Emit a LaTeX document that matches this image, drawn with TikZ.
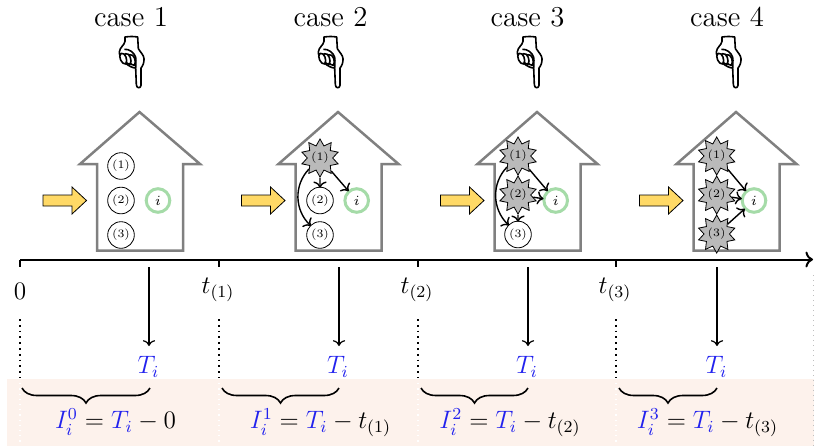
\documentclass[tikz,border=0pt]{standalone}
\usetikzlibrary{shapes.geometric,arrows.meta,decorations.pathreplacing}
\definecolor{bandc}{HTML}{FDF2EC}
\definecolor{yarrow}{HTML}{FFD966}
\definecolor{igreen}{HTML}{A5DBA8}
\definecolor{iblue}{HTML}{2222EE}
\newcommand{\nodefont}{\fontsize{5.7}{6.5}\selectfont}
\tikzset{
  house/.style={draw=black!50,line width=1.25pt,fill=white,line join=miter},
  plain/.style={circle,draw=black,line width=.4pt,fill=white,minimum size=13.3pt,inner sep=0pt,font=\nodefont},
  burst/.style={star,star points=10,star point ratio=1.5,draw=black,line width=.4pt,fill=black!27,minimum size=17pt,inner sep=0pt,font=\nodefont},
  inode/.style={circle,draw=igreen,line width=1.5pt,fill=white,minimum size=11.8pt,inner sep=0pt,font=\scriptsize},
  link/.style={->,line width=.7pt,shorten >=-.5pt},
  entry/.style={draw=black,line width=.4pt,fill=yarrow},
  axisline/.style={line width=1pt},
  tickline/.style={line width=.6pt},
  droparrow/.style={->,line width=.6pt},
  guide/.style={dotted,line width=.9pt},
  wguide/.style={dotted,line width=.6pt,draw=white},
  bracel/.style={decorate,decoration={brace,mirror,amplitude=7.5pt},line width=.8pt},
  lab/.style={font=\Large,inner sep=0pt},
  mathlab/.style={font=\large,inner sep=0pt,scale=1.05},
  hand/.style={line width=.8pt,line join=round,fill=white}
}
\newcommand{\myhouse}[1]{%
  \draw[house] (#1,112) -- ++(60.5,52) -- ++(-17,0) -- ++(0,86.5) -- ++(-86,0) -- ++(0,-86.5) -- ++(-17,0) -- cycle;
  \draw[entry] (#1-96.5,195) -- ++(29,0) -- ++(0,-8) -- ++(14.5,13.5) -- ++(-14.5,13.5) -- ++(0,-8) -- ++(-29,0) -- cycle;
}
\newcommand{\myfinger}[2]{%
  \draw[hand] (#1,#2) .. controls (#1+13,#2-4) and (#1+22,#2+22) .. (#1+14,#2+32)
    .. controls (#1+2,#2+34) and (#1-10,#2+8) .. cycle;
}
\newcommand{\myhand}[1]{%
  \begin{scope}[shift={(#1,60)},x=.1667pt,y=-.1667pt]
    \draw[hand] (-24,-69) .. controls (-10,-71) and (2,-71) .. (14,-69)
      -- (16,-34) .. controls (22,-24) and (33,-14) .. (33,-4) .. controls (34,8) and (29,18) .. (24,24)
      -- (24,76) .. controls (23,86) and (11,86) .. (10,74) -- (8,24)
      .. controls (0,24) and (-14,18) .. (-24,8) .. controls (-34,-2) and (-42,-14) .. (-41,-24)
      .. controls (-40,-38) and (-26,-44) .. (-24,-56) -- cycle;
    \draw[hand,fill=none] (-26,-32) .. controls (-12,-34) and (4,-22) .. (8,-8) .. controls (10,4) and (8,14) .. (8,24);
    \myfinger{-10}{-16}\myfinger{-23}{-19}\myfinger{-36}{-20}
  \end{scope}
}
\begin{document}
\begin{tikzpicture}[x=.5pt,y=-.5pt]
\useasboundingbox (0,0) rectangle (814,446);
% band
\fill[bandc] (7,379) rectangle (814,446);
% case titles and hands
\node[lab] (c1) at (131,17) {case 1};
\node[lab] (c2) at (330.5,17) {case 2};
\node[lab] (c3) at (527.5,17) {case 3};
\node[lab] (c4) at (727,17) {case 4};
\myhand{133}\myhand{332}\myhand{531}\myhand{730}
\myhouse{139.5}\myhouse{338}\myhouse{537}\myhouse{736}
% case 1
\node[plain] (a1) at (121,166) {(1)};
\node[plain] (a2) at (121,200.5) {(2)};
\node[plain] (a3) at (121,235) {(3)};
\node[inode] (ai) at (158,200.5) {$i$};
% case 2
\node[plain] (b2) at (320,200.5) {(2)};
\node[plain] (b3) at (320,235) {(3)};
\node[inode] (bi) at (356.7,200.5) {$i$};
\node[burst] (b1) at (320,158) {(1)};
\draw[link] (b1) -- (b2);
\draw[link] (b1) -- (bi);
\draw[link] (b1) to[bend right=45] (b3);
% case 3
\node[plain] (d3) at (518,234.5) {(3)};
\node[inode] (di) at (555.7,200.5) {$i$};
\node[burst] (d1) at (518,156) {(1)};
\node[burst] (d2) at (518,195) {(2)};
\draw[link] (d1) -- (di);
\draw[link] (d2) -- (di);
\draw[link] (d2) -- (d3);
\draw[link] (d1) to[bend right=45] (d3);
% case 4
\node[inode] (ei) at (754,200.5) {$i$};
\node[burst] (e1) at (716.7,156) {(1)};
\node[burst] (e2) at (716.7,195) {(2)};
\node[burst] (e3) at (716.7,234) {(3)};
\draw[link] (e1) -- (ei);
\draw[link] (e2) -- (ei);
\draw[link] (e3) -- (ei);
% axis
\coordinate (ax0) at (20,259.5);
\coordinate (ax1) at (219,259.5);
\coordinate (ax2) at (418,259.5);
\coordinate (ax3) at (616,259.5);
\coordinate (axe) at (813,259.5);
\draw[axisline,->] (ax0) -- (axe);
\foreach \n/\x in {ax0/20,ax1/219,ax2/418,ax3/616}{
  \coordinate (\n b) at (\x,267);
  \draw[tickline] (\n) -- (\n b);
}
\node[mathlab] (l0) at (20,291) {$0$};
\node[mathlab] (l1) at (218,290) {$t_{(1)}$};
\node[mathlab] (l2) at (417,289.5) {$t_{(2)}$};
\node[mathlab] (l3) at (615,289.5) {$t_{(3)}$};
% dotted guides
\foreach \n/\x in {0/20,1/219,2/418,3/616}{
  \coordinate (gt\n) at (\x,319);
  \coordinate (gm\n) at (\x,378);
  \coordinate (gb\n) at (\x,446);
  \draw[guide] (gt\n) -- (gm\n);
  \draw[wguide] (gm\n) -- (gb\n);
}
\coordinate (grt) at (813,275);
\coordinate (grb) at (813,446);
\draw[dotted,line width=.5pt,draw=black!25] (grt) -- (grb);
% event times
\node[mathlab,text=iblue] (t0) at (148.5,367) {$T_i$};
\node[mathlab,text=iblue] (t1) at (338,367) {$T_i$};
\node[mathlab,text=iblue] (t2) at (527,367) {$T_i$};
\node[mathlab,text=iblue] (t3) at (716.5,367) {$T_i$};
\foreach \n/\x in {0/149,1/339,2/528,3/717}{
  \coordinate (ds\n) at (\x,267);
  \coordinate (de\n) at (\x,346);
  \draw[droparrow] (ds\n) -- (de\n);
}
% braces
\foreach \n/\a/\b in {0/22/150,1/222/339,2/421/528,3/619/717}{
  \coordinate (bl\n) at (\a,388);
  \coordinate (br\n) at (\b,388);
  \draw[bracel] (bl\n) -- (br\n);
}
% formulas
\node[mathlab] (f0) at (115.5,422) {$\textcolor{iblue}{I_i^0}=\textcolor{iblue}{T_i}-0$};
\node[mathlab] (f1) at (320.5,423) {$\textcolor{iblue}{I_i^1}=\textcolor{iblue}{T_i}-t_{(1)}$};
\node[mathlab] (f2) at (510,423) {$\textcolor{iblue}{I_i^2}=\textcolor{iblue}{T_i}-t_{(2)}$};
\node[mathlab] (f3) at (707.5,423) {$\textcolor{iblue}{I_i^3}=\textcolor{iblue}{T_i}-t_{(3)}$};
\end{tikzpicture}
\end{document}
